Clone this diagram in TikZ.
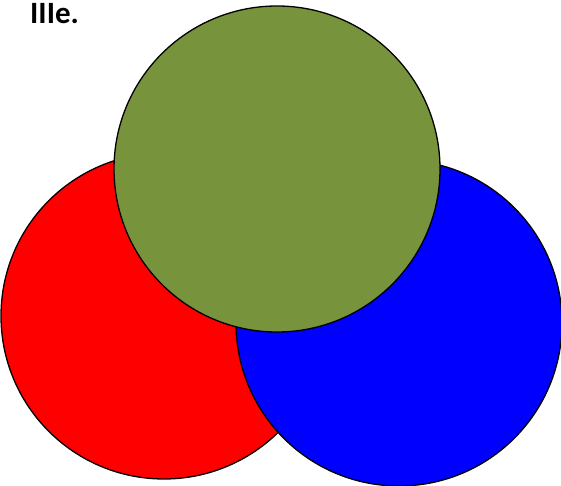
\documentclass[tikz,border=0pt]{standalone}
\usepackage{fontspec}
\setmainfont{Carlito}
\usepackage{xcolor}
\definecolor{olive}{HTML}{77933C}
\usetikzlibrary{positioning}

\begin{document}
\begin{tikzpicture}[
  x=1pt, y=1pt,
  ring/.style={draw, circle, line width=1.3pt, inner sep=0pt, minimum size=326pt}
]
\useasboundingbox (0,0) rectangle (561,486);

% Circles
\node[ring, fill=red] (red) at (164,170) {};
\node[ring, fill=blue] (blue) at (399,163) {};
\node[ring, fill=olive] (green) at (277,317) {};
% Label
\node[font=\bfseries\fontsize{31}{36}\selectfont, anchor=base west, inner sep=0pt] (lbl) at (30,462) {IIIe.};
\end{tikzpicture}
\end{document}
